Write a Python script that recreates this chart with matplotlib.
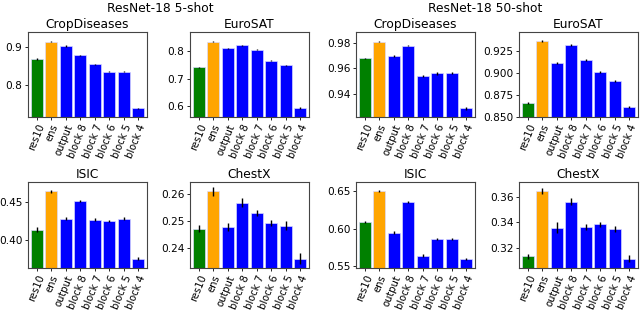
import matplotlib
matplotlib.use("Agg")
import matplotlib.pyplot as plt
import numpy as np

labels = ["res10", "ens", "output", "block 8", "block 7", "block 6", "block 5", "block 4"]
colors = ["green", "orange"] + ["blue"] * 6

# 5-shot
crop5 = [0.870, 0.915, 0.904, 0.879, 0.856, 0.836, 0.836, 0.739]
crop5_err = [0.002, 0.0015, 0.0015, 0.0015, 0.0015, 0.0015, 0.002, 0.002]
euro5 = [0.742, 0.836, 0.811, 0.823, 0.807, 0.767, 0.749, 0.594]
euro5_err = [0.002, 0.002, 0.002, 0.002, 0.002, 0.002, 0.002, 0.002]
isic5 = [0.4133, 0.4637, 0.4279, 0.4509, 0.4261, 0.4243, 0.4279, 0.3752]
isic5_err = [0.0035, 0.0018, 0.0018, 0.0018, 0.002, 0.0013, 0.0018, 0.0022]
chest5 = [0.2473, 0.2610, 0.2479, 0.2569, 0.2531, 0.2494, 0.2484, 0.2362]
chest5_err = [0.0012, 0.0015, 0.0015, 0.0015, 0.001, 0.0012, 0.0015, 0.0019]

# 50-shot
crop50 = [0.9676, 0.9808, 0.9697, 0.9777, 0.9539, 0.9560, 0.9565, 0.9286]
crop50_err = [0.0005, 0.0005, 0.0006, 0.0005, 0.0009, 0.0009, 0.0009, 0.0011]
euro50 = [0.8657, 0.9366, 0.9119, 0.9321, 0.9145, 0.9015, 0.8910, 0.8609]
euro50_err = [0.0012, 0.001, 0.001, 0.001, 0.001, 0.0012, 0.0012, 0.0012]
isic50 = [0.6090, 0.6504, 0.5951, 0.6356, 0.5646, 0.5865, 0.5865, 0.5605]
isic50_err = [0.0015, 0.0015, 0.002, 0.0015, 0.0015, 0.0015, 0.0012, 0.0012]
chest50 = [0.3131, 0.3648, 0.3360, 0.3565, 0.3365, 0.3384, 0.3347, 0.3115]
chest50_err = [0.0022, 0.0025, 0.004, 0.003, 0.0022, 0.0022, 0.0025, 0.003]

panels = [
    ("CropDiseases", crop5, crop5_err, (0.716, 0.941), [0.8, 0.9], "%.1f"),
    ("EuroSAT", euro5, euro5_err, (0.561, 0.871), [0.6, 0.7, 0.8], "%.1f"),
    ("CropDiseases", crop50, crop50_err, (0.9219, 0.9883), [0.94, 0.96, 0.98], "%.2f"),
    ("EuroSAT", euro50, euro50_err, (0.8505, 0.9468), [0.850, 0.875, 0.900, 0.925], "%.3f"),
    ("ISIC", isic5, isic5_err, (0.3628, 0.476), [0.40, 0.45], "%.2f"),
    ("ChestX", chest5, chest5_err, (0.2327, 0.2645), [0.24, 0.25, 0.26], "%.2f"),
    ("ISIC", isic50, isic50_err, (0.548, 0.6625), [0.55, 0.60, 0.65], "%.2f"),
    ("ChestX", chest50, chest50_err, (0.304, 0.372), [0.32, 0.34, 0.36], "%.2f"),
]

W, H = 640, 310
fig = plt.figure(figsize=(6.4, 3.1), dpi=100)

lefts = [28, 190, 356, 519]
rows = [(32, 117), (182, 268)]
aw = 119

for i, (title, vals, errs, ylim, yt, fmt) in enumerate(panels):
    r, c = divmod(i, 4)
    top, bot = rows[r]
    ax = fig.add_axes([lefts[c] / W, 1 - bot / H, aw / W, (bot - top) / H])
    x = np.arange(len(labels))
    ax.bar(x, vals, width=0.8, color=colors, edgecolor=(0.85, 0.85, 1.0, 0.8), linewidth=0.6,
           yerr=errs, error_kw=dict(ecolor="black", elinewidth=1.0, capsize=0))
    ax.set_ylim(*ylim)
    ax.set_xlim(-0.6, len(labels) - 0.4)
    ax.set_yticks(yt)
    ax.set_yticklabels([fmt % v for v in yt], fontsize=7.6)
    ax.set_xticks(x)
    ax.set_xticklabels(labels, rotation=68, ha="right", rotation_mode="anchor", fontsize=7.2)
    ax.tick_params(axis="both", length=2.5, width=0.6, pad=1.5)
    for s in ax.spines.values():
        s.set_color("#444444")
        s.set_linewidth(0.8)
    ax.set_title(title, fontsize=8.8, pad=3)

fig.text(160 / W, 1 - 8 / H, "ResNet-18 5-shot", ha="center", va="center", fontsize=8.8)
fig.text(485 / W, 1 - 8 / H, "ResNet-18 50-shot", ha="center", va="center", fontsize=8.8)

fig.savefig("out.png", dpi=100)
